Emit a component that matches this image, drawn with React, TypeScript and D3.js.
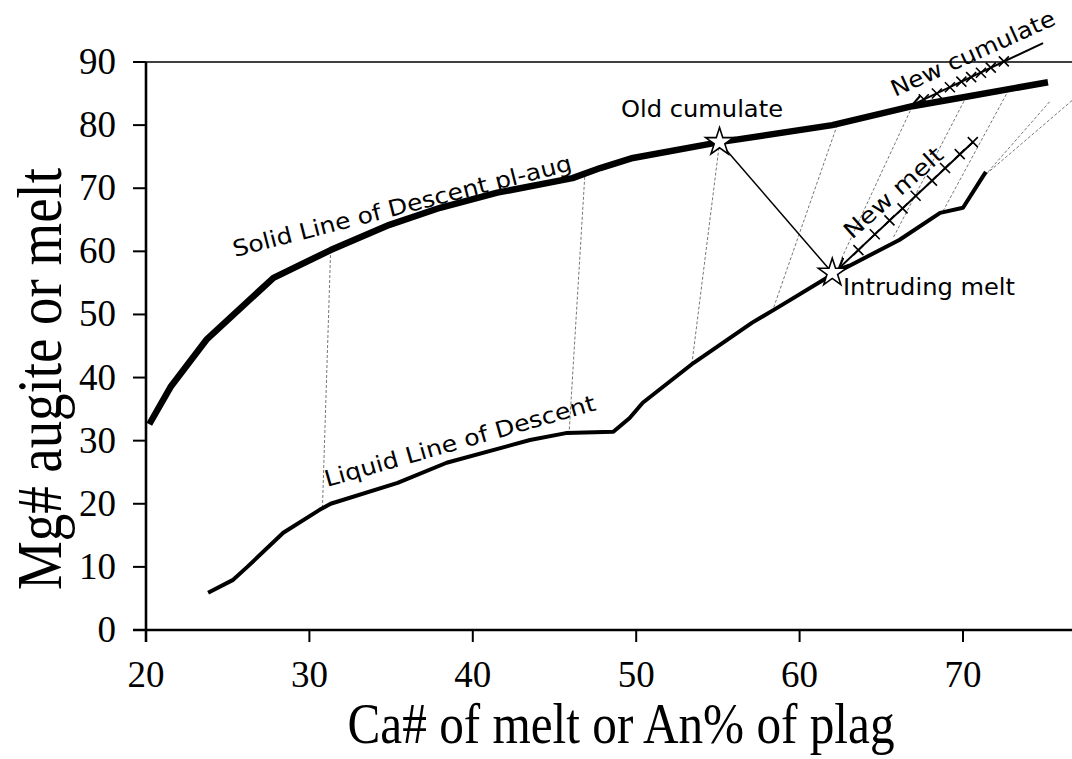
import React from "react";
import * as d3 from "d3";

// ---- data (x = Ca# of melt or An% of plag, y = Mg# augite or melt) ----
const solidX = [20.2, 21.5, 23.7, 27.8, 31.3, 34.9, 38.0, 41.5, 46.1, 47.8, 49.8, 55.1, 62.0, 66.9, 70.2, 75.2];
const solidY = [32.6, 38.5, 46.0, 55.8, 60.2, 64.2, 66.9, 69.3, 71.6, 73.2, 74.8, 77.3, 80.0, 83.0, 84.5, 86.8];

const liquidX = [23.8, 25.3, 26.2, 28.4, 30.6, 31.3, 35.4, 38.4, 43.5, 45.7, 48.6, 49.6, 50.4, 53.5, 57.1, 58.6, 61.8, 62.0, 66.1, 68.6, 70.0, 71.2, 71.4];
const liquidY = [5.9, 7.9, 10.0, 15.4, 19.0, 20.0, 23.3, 26.5, 30.1, 31.2, 31.4, 33.6, 36.0, 42.3, 48.7, 51.0, 56.0, 56.3, 61.8, 66.1, 66.9, 71.8, 72.6];

// tie lines: solid (cumulate) end -> liquid end
const tieSolidX = [31.3, 46.85, 55.1, 62.3, 66.9, 70.2, 72.8, 75.3, 78.3];
const tieSolidY = [60.2, 71.8, 77.2, 80.0, 83.0, 84.5, 85.6, 83.7, 87.5];
const tieLiquidX = [30.8, 45.9, 53.4, 58.4, 62.5, 65.7, 68.7, 71.4, 71.4];
const tieLiquidY = [19.5, 31.5, 42.0, 51.0, 58.5, 62.0, 66.0, 72.2, 72.2];

const oldCumulate = [55.1, 77.3];
const intrudingMelt = [62.0, 56.6];

const newMeltLineX = [62.4, 70.6];
const newMeltLineY = [57.3, 77.3];
const newMeltMarkX = [63.6, 64.6, 65.5, 66.3, 67.1, 68.1, 68.9, 69.8, 70.6];
const newMeltMarkY = [60.2, 62.7, 64.9, 66.8, 68.8, 71.2, 73.2, 75.4, 77.3];

const newCumLineX = [66.9, 74.9];
const newCumLineY = [83.2, 93.0];
const newCumMarkX = [67.6, 68.4, 69.2, 69.9, 70.5, 71.1, 71.7, 72.5];
const newCumMarkY = [84.1, 85.0, 86.0, 86.9, 87.6, 88.3, 89.1, 90.1];

const xTicks = [20, 30, 40, 50, 60, 70];
const yTicks = [0, 10, 20, 30, 40, 50, 60, 70, 80, 90];

const W = 1072;
const H = 759;

export default function App() {
  const x = d3.scaleLinear().domain([20, 80]).range([146, 146 + 60 * 16.34]);
  const y = d3.scaleLinear().domain([0, 90]).range([630, 62]);

  const line = d3
    .line<[number, number]>()
    .x((d) => x(d[0]))
    .y((d) => y(d[1]));

  const solid: [number, number][] = solidX.map((v, i) => [v, solidY[i]]);
  const liquid: [number, number][] = liquidX.map((v, i) => [v, liquidY[i]]);

  const star = d3.symbol().type(d3.symbolStar).size(240)() as string;

  const serif = "'Liberation Serif', 'Times New Roman', serif";
  const sans = "'DejaVu Sans', Verdana, sans-serif";

  const cross = (cx: number, cy: number, k: number) => (
    <path
      key={k}
      d={`M${cx - 5},${cy - 5}L${cx + 5},${cy + 5}M${cx - 5},${cy + 5}L${cx + 5},${cy - 5}`}
      stroke="#000"
      strokeWidth={1.6}
      fill="none"
    />
  );

  const rotLabel = (
    text: string,
    x0: number,
    y0: number,
    x1: number,
    y1: number,
    size: number
  ) => {
    const ang = (Math.atan2(y1 - y0, x1 - x0) * 180) / Math.PI;
    const len = Math.hypot(x1 - x0, y1 - y0);
    return (
      <text
        x={x0}
        y={y0}
        transform={`rotate(${ang},${x0},${y0})`}
        fontFamily={sans}
        fontSize={size}
        textLength={len}
        lengthAdjust="spacingAndGlyphs"
        fill="#000"
      >
        {text}
      </text>
    );
  };

  return (
    <svg
      width={W}
      height={H}
      style={{ position: "absolute", left: 0, top: 0, background: "#fff" }}
    >
      <defs>
        <marker
          id="arrowStart"
          viewBox="0 0 10 10"
          refX={1}
          refY={5}
          markerWidth={12}
          markerHeight={12}
          markerUnits="userSpaceOnUse"
          orient="auto"
        >
          <path d="M10,1L1,5L10,9" fill="none" stroke="#000" strokeWidth={1.8} />
        </marker>
      </defs>
      <rect x={0} y={0} width={W} height={H} fill="#fff" />

      {/* tie lines */}
      {tieSolidX.map((v, i) => (
        <line
          key={"t" + i}
          x1={x(v)}
          y1={y(tieSolidY[i])}
          x2={x(tieLiquidX[i])}
          y2={y(tieLiquidY[i])}
          stroke="#666"
          strokeWidth={0.9}
          strokeDasharray="3,2"
        />
      ))}

      {/* axes frame */}
      <line x1={133} x2={W} y1={y(90)} y2={y(90)} stroke="#000" strokeWidth={1.6} />
      <line x1={133} x2={W} y1={y(0)} y2={y(0)} stroke="#000" strokeWidth={2.6} />
      <line x1={x(20)} x2={x(20)} y1={y(90)} y2={y(0) + 12} stroke="#000" strokeWidth={2.6} />
      {yTicks.map((t) => (
        <g key={"yt" + t}>
          <line x1={133} x2={x(20)} y1={y(t)} y2={y(t)} stroke="#000" strokeWidth={2} />
          <text
            x={116}
            y={y(t) + 12}
            textAnchor="end"
            fontFamily={serif}
            fontSize={37}
            fill="#000"
          >
            {t}
          </text>
        </g>
      ))}
      {xTicks.map((t) => (
        <g key={"xt" + t}>
          <line x1={x(t)} x2={x(t)} y1={y(0)} y2={y(0) + 12} stroke="#000" strokeWidth={2} />
          <text
            x={x(t)}
            y={687}
            textAnchor="middle"
            fontFamily={serif}
            fontSize={37}
            fill="#000"
          >
            {t}
          </text>
        </g>
      ))}

      {/* axis titles */}
      <text
        x={0}
        y={0}
        transform="translate(621,743) scale(1,1.18)"
        textAnchor="middle"
        fontFamily={serif}
        fontSize={49}
        textLength={547}
        lengthAdjust="spacingAndGlyphs"
        fill="#000"
      >
        Ca# of melt or An% of plag
      </text>
      <text
        x={0}
        y={0}
        transform={`translate(61,379) rotate(-90)`}
        textAnchor="middle"
        fontFamily={serif}
        fontSize={64}
        textLength={422}
        lengthAdjust="spacingAndGlyphs"
        fill="#000"
      >
        Mg# augite or melt
      </text>

      {/* main curves */}
      <path d={line(solid) as string} fill="none" stroke="#000" strokeWidth={6.5} strokeLinejoin="round" />
      <path d={line(liquid) as string} fill="none" stroke="#000" strokeWidth={4} strokeLinejoin="round" />

      {/* mixing line */}
      <line
        x1={x(oldCumulate[0])}
        y1={y(oldCumulate[1])}
        x2={x(intrudingMelt[0])}
        y2={y(intrudingMelt[1])}
        stroke="#000"
        strokeWidth={1.5}
      />

      {/* new melt */}
      <line
        x1={x(newMeltLineX[0])}
        y1={y(newMeltLineY[0])}
        x2={x(newMeltLineX[1])}
        y2={y(newMeltLineY[1])}
        stroke="#000"
        strokeWidth={2}
        markerStart="url(#arrowStart)"
      />
      {newMeltMarkX.map((v, i) => cross(x(v), y(newMeltMarkY[i]), i))}

      {/* new cumulate */}
      <line
        x1={x(newCumLineX[0])}
        y1={y(newCumLineY[0])}
        x2={x(newCumLineX[1])}
        y2={y(newCumLineY[1])}
        stroke="#000"
        strokeWidth={2}
        markerStart="url(#arrowStart)"
      />
      {newCumMarkX.map((v, i) => cross(x(v), y(newCumMarkY[i]), 100 + i))}

      {/* stars */}
      {[oldCumulate, intrudingMelt].map((p, i) => (
        <path
          key={"s" + i}
          d={star}
          transform={`translate(${x(p[0])},${y(p[1])})`}
          fill="#fff"
          stroke="#000"
          strokeWidth={1.6}
        />
      ))}

      {/* annotations */}
      <text x={621} y={117} fontFamily={sans} fontSize={22.5} textLength={162} lengthAdjust="spacingAndGlyphs" fill="#000">
        Old cumulate
      </text>
      <text x={843} y={295} fontFamily={sans} fontSize={22.5} textLength={172} lengthAdjust="spacingAndGlyphs" fill="#000">
        Intruding melt
      </text>
      {rotLabel("Solid Line of Descent pl-aug", 235, 257, 573, 170, 22.5)}
      {rotLabel("Liquid Line of Descent", 327, 487, 597, 410, 22.5)}
      {rotLabel("New melt", 852, 240, 945, 157, 22.5)}
      {rotLabel("New cumulate", 895, 97, 1057, 24, 22.5)}
    </svg>
  );
}
